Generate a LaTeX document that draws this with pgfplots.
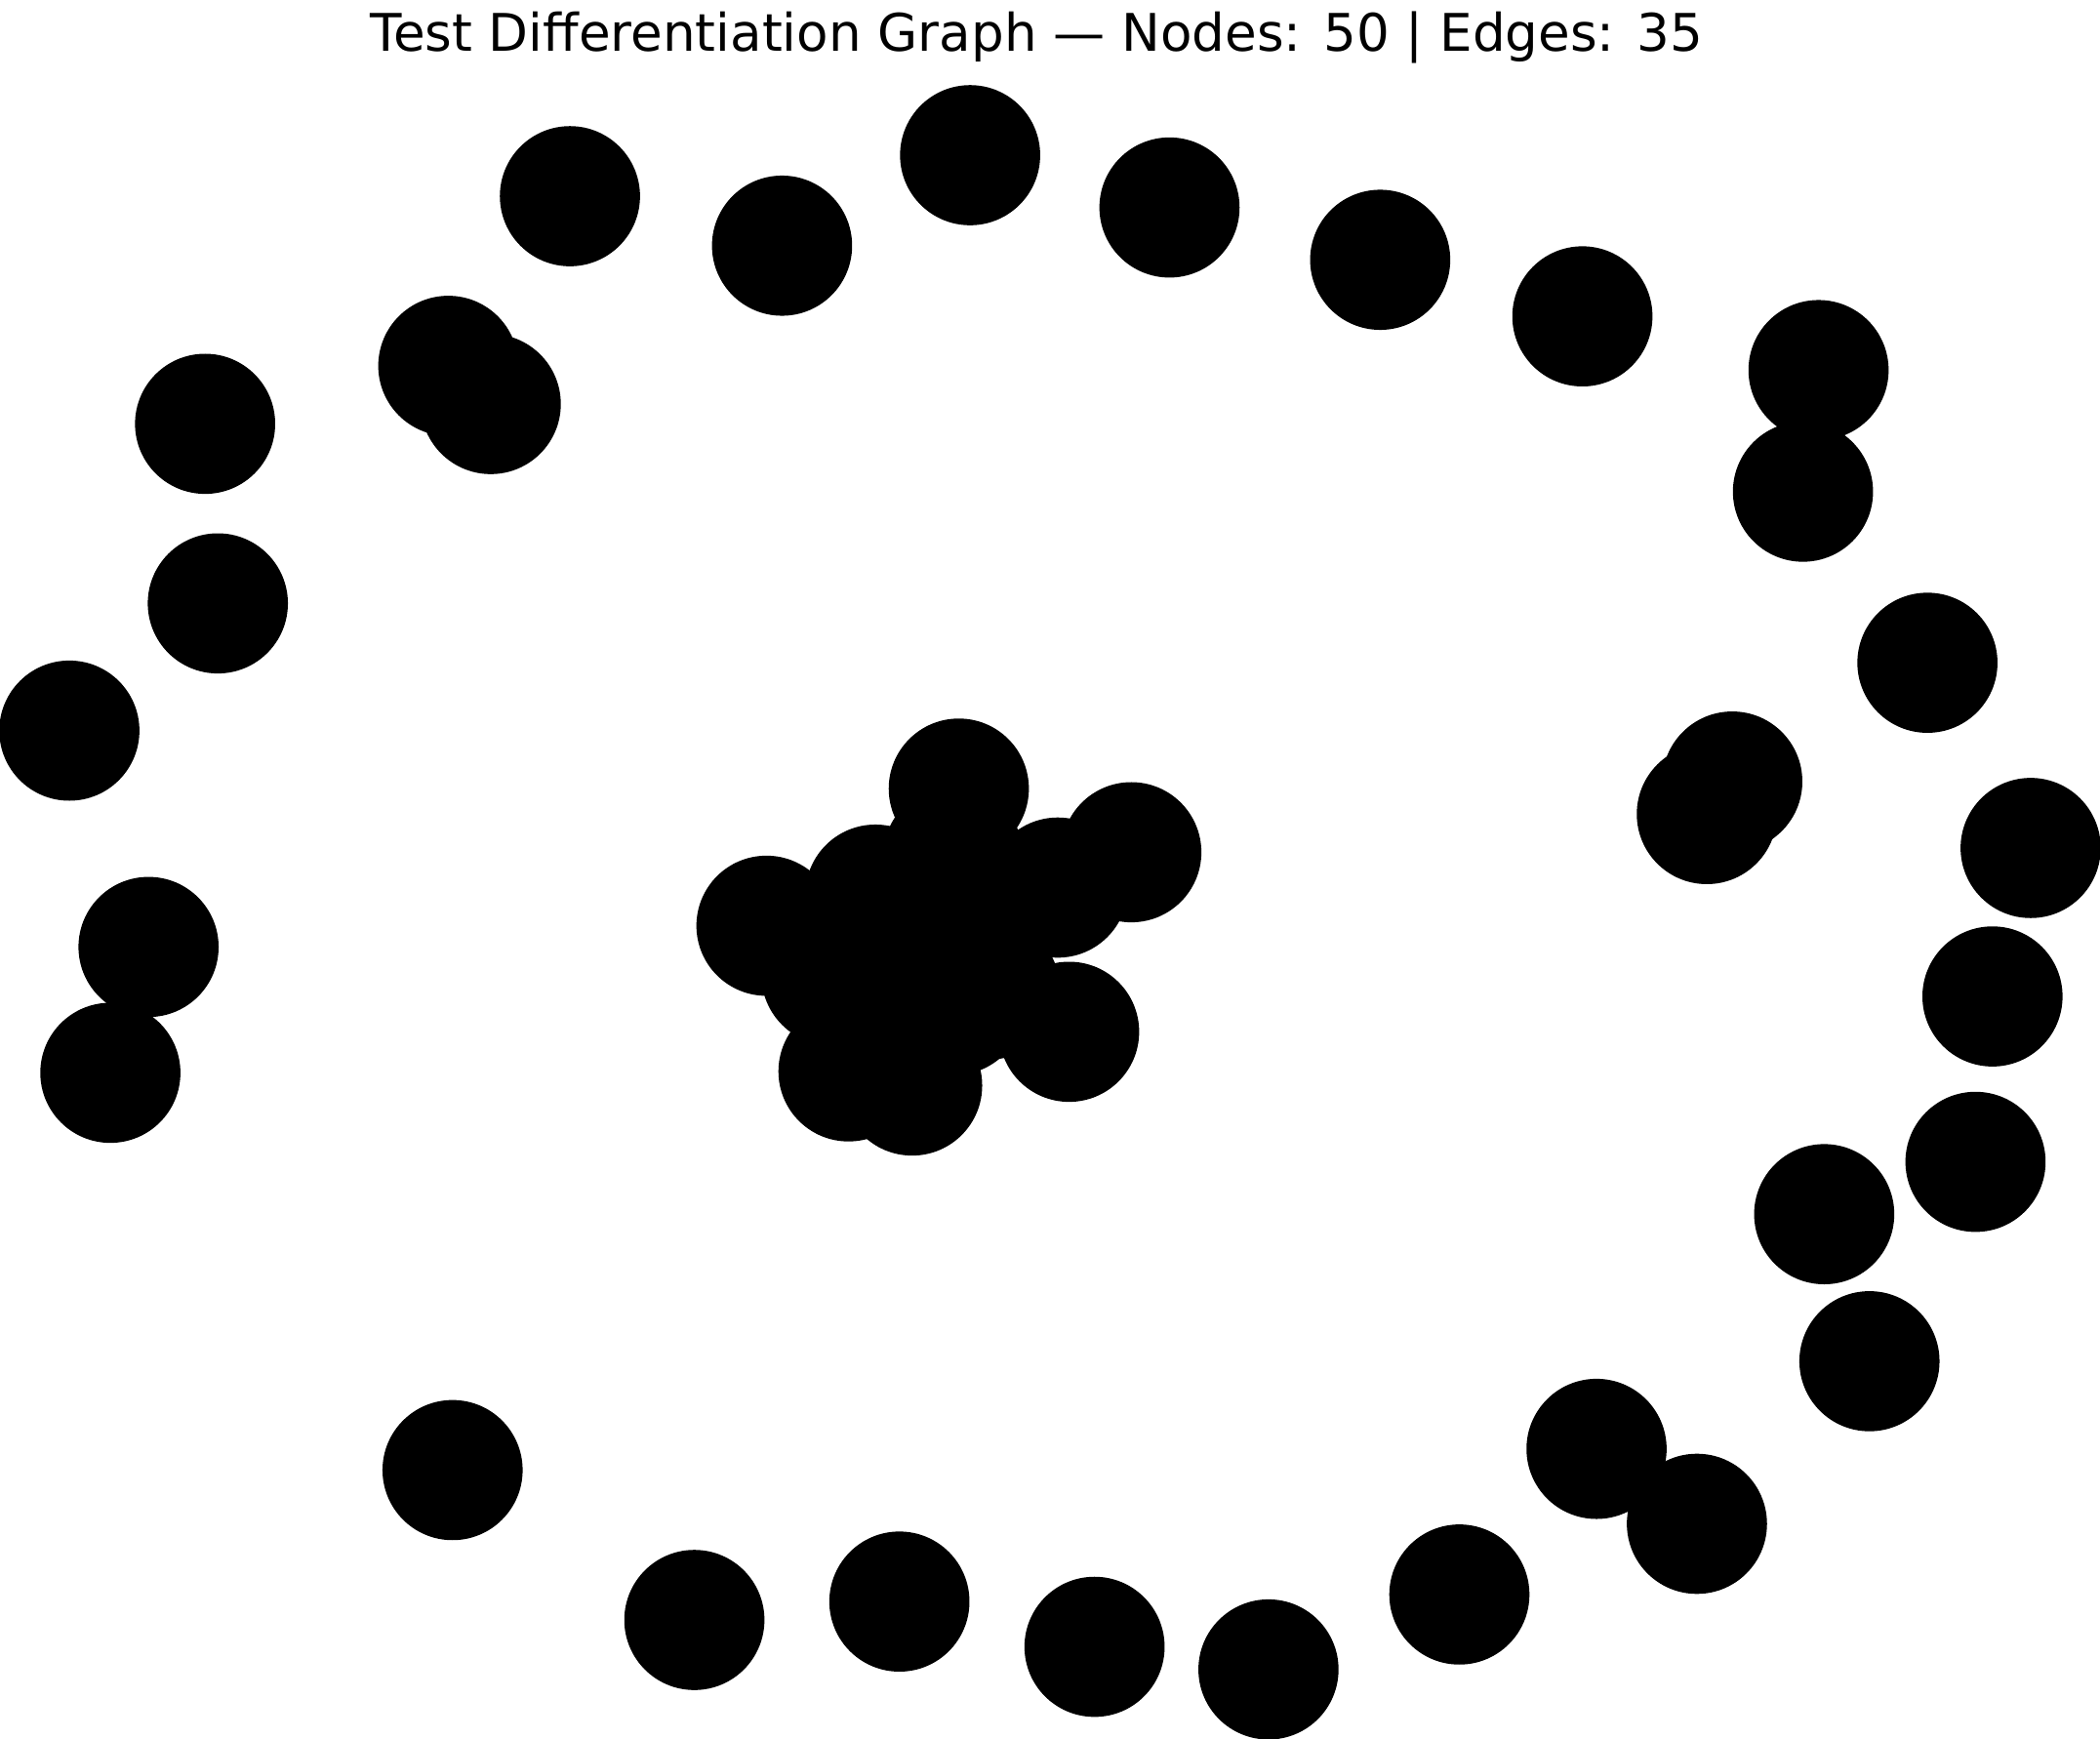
\documentclass[border=0pt]{standalone}
\usepackage{pgfplots}
\usepackage{pgfplotstable}
\pgfplotsset{compat=1.18}
\usepackage{fontspec}
\setmainfont{DejaVu Sans}
\definecolor{nb}{HTML}{4682B4}
\definecolor{ng}{HTML}{708090}
\pgfplotstableread{
n x y c
0 727 123 0
1 1404 482 0
2 685 725 1
3 715 619 0
4 1017 197 1
5 358 272 0
6 1363 976 0
7 629 703 1
8 146 683 1
9 1170 1038 0
10 1073 1141 0
11 716 724 1
12 868 160 1
13 119 772 1
14 938 1194 0
15 641 771 0
16 583 668 1
17 1266 566 1
18 660 646 0
19 797 743 0
20 713 677 1
21 186 313 1
22 594 187 1
23 388 299 0
24 815 1178 1
25 841 616 0
26 1327 275 1
27 741 713 0
28 1248 589 0
29 789 641 0
30 677 1146 1
31 1438 835 1
32 195 440 0
33 679 713 1
34 444 152 1
35 686 781 0
36 654 680 1
37 1160 237 1
38 1241 1091 1
39 532 1159 1
40 700 697 1
41 700 690 1
42 361 1053 1
43 1316 361 1
44 1477 613 1
45 90 530 0
46 719 571 0
47 1450 718 0
48 1331 872 0
49 680 660 1
}\nodes
\begin{document}
\begin{tikzpicture}
\begin{axis}[
  width=21.52cm, height=17.43cm, scale only axis,
  xmin=0, xmax=1548, ymin=0, ymax=1254, y dir=reverse,
  hide axis, clip=false,
]
\node[font=\fontsize{14.5}{16}\selectfont] at (axis cs:774,40) {Test Differentiation Graph — Nodes: 50 | Edges: 35};
\addplot[gray!60, line width=0.6pt, opacity=0.6] coordinates {(719,571)(715,619)};
\addplot[gray!60, line width=0.6pt, opacity=0.6] coordinates {(841,616)(789,641)};
\addplot[gray!60, line width=0.6pt, opacity=0.6] coordinates {(797,743)(741,713)};
\addplot[gray!60, line width=0.6pt, opacity=0.6] coordinates {(789,641)(713,677)};
\addplot[gray!60, line width=0.6pt, opacity=0.6] coordinates {(641,771)(679,713)};
\addplot[gray!60, line width=0.6pt, opacity=0.6] coordinates {(686,781)(685,725)};
\addplot[gray!60, line width=0.6pt, opacity=0.6] coordinates {(583,668)(629,703)};
\addplot[
  scatter, only marks, mark=*, mark size=19.4pt,
  point meta=explicit symbolic,
  visualization depends on={\thisrow{c} \as \col},
  scatter/@pre marker code/.code={%
    \pgfscope
    \ifdim\col pt<0.5pt \pgfsetfillcolor{nb}\else\pgfsetfillcolor{ng}\fi
    \pgfsetstrokecolor{white}\pgfsetlinewidth{0.6pt}\pgfsetfillopacity{0.9}},
  scatter/@post marker code/.code={\endpgfscope},
  nodes near coords,
  every node near coord/.append style={anchor=center, font=\fontsize{10}{12}\selectfont, text=black, fill opacity=1, text opacity=1},
] table[x=x, y=y, meta=n] {\nodes};
\end{axis}
\end{tikzpicture}
\end{document}
